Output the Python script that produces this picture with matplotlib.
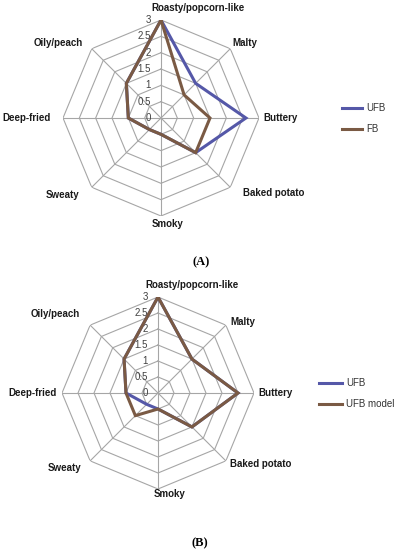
import numpy as np
import matplotlib.pyplot as plt

# attribute axes, clockwise from the top
attributes = ['Roasty/popcorn-like', 'Malty', 'Buttery', 'Baked potato',
              'Smoky', 'Sweaty', 'Deep-fried', 'Oily/peach']

# panel A: UFB vs FB
ufb_a = [3.0, 1.5, 2.6, 1.5, 0.5, 0.5, 1.0, 1.5]
fb_a = [3.0, 1.0, 1.5, 1.5, 0.5, 0.5, 1.0, 1.5]

# panel B: UFB vs UFB model
ufb_b = [3.0, 1.5, 2.5, 1.5, 0.5, 0.5, 1.0, 1.5]
model_b = [3.0, 1.5, 2.5, 1.5, 0.5, 1.0, 1.0, 1.5]

rings = [0.5, 1.0, 1.5, 2.0, 2.5, 3.0]
tick_labels = ['0', '0.5', '1', '1.5', '2', '2.5', '3']

BLUE = '#5558a8'
BROWN = '#7a5a44'
W, H = 397, 550

fig = plt.figure(figsize=(W / 100, H / 100), dpi=100)

angles = np.linspace(0, 2 * np.pi, len(attributes), endpoint=False)
closed = np.append(angles, angles[0])


def radar(cx, cy, rad, series, label_offsets, legend_pos, panel, panel_pos):
    ax = fig.add_axes([(cx - rad) / W, (H - cy - rad) / H, 2 * rad / W, 2 * rad / H],
                      projection='polar')
    ax.set_theta_offset(np.pi / 2)
    ax.set_theta_direction(-1)
    ax.set_ylim(0, 3)
    ax.grid(False)
    ax.spines['polar'].set_visible(False)
    ax.set_xticks([])
    ax.set_yticks([])
    ax.patch.set_alpha(0)

    # octagon grid and spokes
    for r in rings:
        ax.plot(closed, [r] * len(closed), color='#a6a6a6', lw=0.8, zorder=1)
    for a in angles:
        ax.plot([a, a], [0, 3], color='#a6a6a6', lw=0.8, zorder=1)

    # value labels along the top spoke
    for i, t in enumerate(tick_labels):
        ax.annotate(t, xy=(0, i * 0.5), xytext=(-10, 0), textcoords='offset pixels',
                    ha='right', va='center', fontsize=7, color='#404040',
                    family='Liberation Sans')

    # attribute names
    for a, name, (dx, dy, ha) in zip(angles, attributes, label_offsets):
        ax.annotate(name, xy=(a, 3), xytext=(dx, dy), textcoords='offset pixels',
                    ha=ha, va='center', fontsize=7, fontweight='bold',
                    color='#1a1a1a', family='Liberation Sans', annotation_clip=False)

    handles = []
    for vals, color, name in series:
        h, = ax.plot(closed, vals + vals[:1], color=color, lw=2.2, zorder=3,
                     label=name, solid_joinstyle='miter')
        handles.append(h)

    fig.legend(handles=handles, loc='upper left',
               bbox_to_anchor=(legend_pos[0] / W, 1 - legend_pos[1] / H),
               frameon=False, borderpad=0, borderaxespad=0, handlelength=legend_pos[2],
               handletextpad=0.4, labelspacing=1.15,
               prop={'family': 'Liberation Sans', 'size': 7})
    for t in fig.legends[-1].get_texts():
        t.set_color('#333333')

    fig.text(panel_pos[0] / W, 1 - panel_pos[1] / H, panel, ha='center', va='center',
             fontsize=9, fontweight='bold', family='Liberation Serif')


offsets_a = [(37, 12, 'center'), (2, 6, 'left'), (4, 0, 'left'), (13, -6, 'left'),
             (7, -8, 'center'), (-12, -8, 'right'), (-12, 0, 'right'), (-9, 6, 'right')]
offsets_b = [(34, 12, 'center'), (4, 3, 'left'), (4, 0, 'left'), (4, -3, 'left'),
             (12, -5, 'center'), (-9, -7, 'right'), (-5, 0, 'right'), (-10, 11, 'right')]

radar(161, 118, 98, [(ufb_a, BLUE, 'UFB'), (fb_a, BROWN, 'FB')],
      offsets_a, (342, 103, 2.1), '(A)', (201, 262))
radar(158, 393, 96, [(ufb_b, BLUE, 'UFB'), (model_b, BROWN, 'UFB model')],
      offsets_b, (319, 378, 2.4), '(B)', (200, 543))

fig.savefig('out.png', dpi=100)
